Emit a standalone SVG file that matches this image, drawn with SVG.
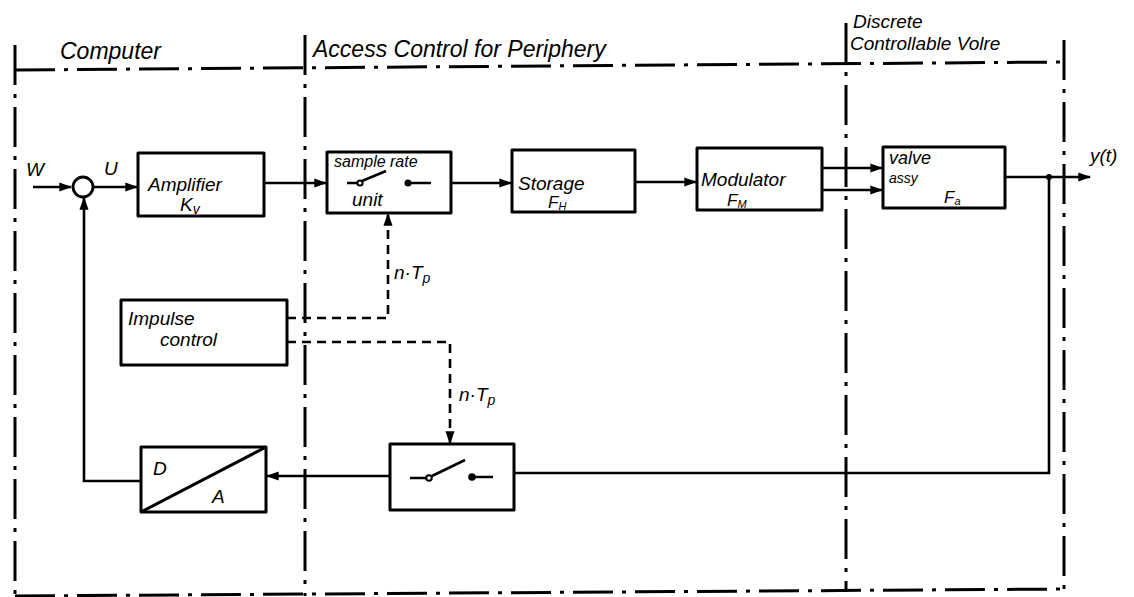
<svg xmlns="http://www.w3.org/2000/svg" width="1134" height="597" viewBox="0 0 1134 597">
<style>
.frame{fill:none;stroke:#000;stroke-width:3;stroke-dasharray:40 9 4 9;stroke-linecap:butt}
.box{fill:#fff;stroke:#000;stroke-width:3;stroke-linejoin:round}
.ln{fill:none;stroke:#000;stroke-width:2.6}
.dash{fill:none;stroke:#000;stroke-width:2.6;stroke-dasharray:9 6}
.t{font-family:"Liberation Sans",Arial,sans-serif;font-style:italic;fill:#000}
.h{font-size:23px}
.n{font-size:19px}
.s{font-size:14px}
.f{font-size:17px}
.sub{font-size:11px}
</style>
<defs>
<marker id="arr" viewBox="0 0 10 10" refX="9" refY="5" markerWidth="5" markerHeight="5" orient="auto" markerUnits="strokeWidth">
<path d="M0,1.5 L10,5 L0,8.5 Z" fill="#000"/>
</marker>
</defs>
<rect width="1134" height="597" fill="#fff"/>
<g id="frame">
<path class="frame" d="M15,45 V597"/>
<path class="frame" d="M305,35 V596"/>
<path class="frame" d="M846,23 V592"/>
<path class="frame" d="M1064,40 V589"/>
<path class="frame" d="M15,70 L1064,62"/>
<path class="frame" d="M15,596 L1066,589"/>
<text class="t h" x="60" y="59">Computer</text>
<text class="t h" x="313" y="57">Access Control for Periphery</text>
<text class="t n" x="853" y="28">Discrete</text>
<text class="t n" x="850" y="50">Controllable Volre</text>
</g>
<g id="connectors">
<path class="ln" d="M33,187 H71" marker-end="url(#arr)"/>
<path class="ln" d="M92,187 H137" marker-end="url(#arr)"/>
<path class="ln" d="M264,183 H326" marker-end="url(#arr)"/>
<path class="ln" d="M451,183 H511" marker-end="url(#arr)"/>
<path class="ln" d="M635,182 H696" marker-end="url(#arr)"/>
<path class="ln" d="M822,168 H882" marker-end="url(#arr)"/>
<path class="ln" d="M822,190 H882" marker-end="url(#arr)"/>
<path class="ln" d="M1005,177 H1090" marker-end="url(#arr)"/>
<circle cx="1049" cy="177" r="3" fill="#000"/>
<path class="ln" d="M1049,177 V473 H514"/>
<path class="ln" d="M390,476 H267" marker-end="url(#arr)"/>
<path class="ln" d="M141,481 H84 V198" marker-end="url(#arr)"/>
<path class="dash" d="M287,318 H388 V214" marker-end="url(#arr)"/>
<path class="dash" d="M287,342 H450 V443" marker-end="url(#arr)"/>
<text class="t n" x="26" y="176">W</text>
<text class="t n" x="104" y="175">U</text>
<text class="t n" x="1090" y="162">y(t)</text>
<text class="t n" x="394" y="279">n·T<tspan class="s" dy="4">p</tspan></text>
<text class="t n" x="459" y="401">n·T<tspan class="s" dy="4">p</tspan></text>
</g>
<g id="sum">
<circle cx="83" cy="187" r="10" fill="#fff" stroke="#000" stroke-width="2.8"/>
</g>
<g id="amplifier">
<rect class="box" x="138" y="153" width="126" height="63"/>
<text class="t n" x="148" y="191">Amplifier</text>
<text class="t n" x="180" y="211">K<tspan class="s" dy="3">v</tspan></text>
</g>
<g id="sample">
<rect class="box" x="327" y="152" width="124" height="61"/>
<text class="t" font-size="16" x="334" y="167">sample rate</text>
<path class="ln" d="M347,183 H357 M362,181 L386,171 M410,183 H431"/>
<circle cx="360" cy="183" r="2.6" fill="#fff" stroke="#000" stroke-width="2"/>
<circle cx="408" cy="183" r="3.5" fill="#000"/>
<text class="t n" x="352" y="206">unit</text>
</g>
<g id="storage">
<rect class="box" x="512" y="150" width="123" height="62"/>
<text class="t n" x="518" y="190">Storage</text>
<text class="t f" x="548" y="208">F<tspan class="sub" dy="2">H</tspan></text>
</g>
<g id="modulator">
<rect class="box" x="697" y="148" width="125" height="62"/>
<text class="t n" x="701" y="186">Modulator</text>
<text class="t f" x="727" y="206">F<tspan class="sub" dy="2">M</tspan></text>
</g>
<g id="valve">
<rect class="box" x="883" y="147" width="122" height="61"/>
<text class="t" font-size="18" x="889" y="164">valve</text>
<text class="t s" x="889" y="183">assy</text>
<text class="t f" x="944" y="203">F<tspan class="sub" dy="2">a</tspan></text>
</g>
<g id="impulse">
<rect class="box" x="121" y="300" width="166" height="65"/>
<text class="t n" x="128" y="325">Impulse</text>
<text class="t n" x="160" y="346">control</text>
</g>
<g id="switch">
<rect class="box" x="390" y="444" width="124" height="66"/>
<path class="ln" d="M410,478 H426 M432,476 L465,460 M474,477 H493"/>
<circle cx="429" cy="478" r="2.8" fill="#fff" stroke="#000" stroke-width="2"/>
<circle cx="472" cy="477" r="3.8" fill="#000"/>
</g>
<g id="da">
<rect class="box" x="141" y="447" width="125" height="65"/>
<path d="M141,512 L266,447" stroke="#000" stroke-width="3"/>
<text class="t n" x="153" y="475">D</text>
<text class="t n" x="212" y="503">A</text>
</g>
</svg>
